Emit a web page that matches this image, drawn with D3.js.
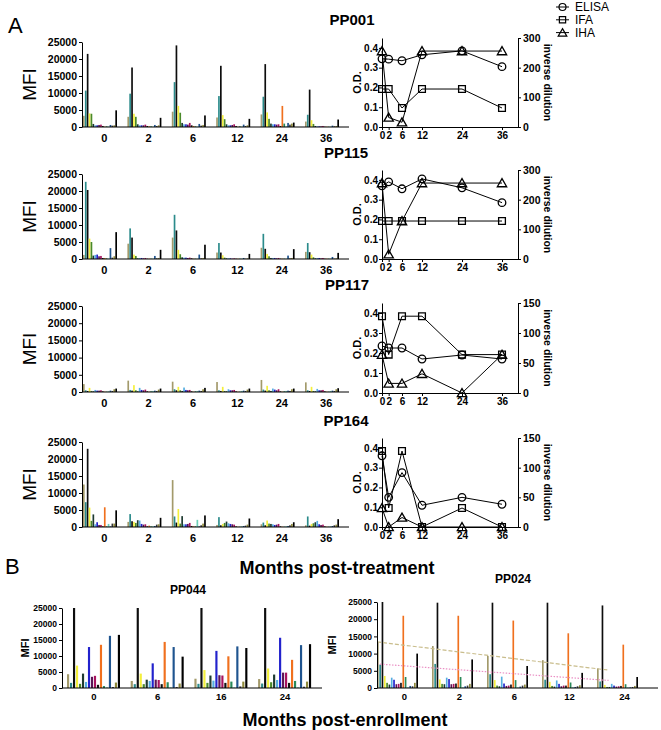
<!DOCTYPE html>
<html><head><meta charset="utf-8">
<script src="https://cdn.jsdelivr.net/npm/d3@7"></script>
<style>body{margin:0;background:#fff}svg{display:block}</style>
</head><body>
<svg id="c" width="661" height="730"></svg>
<script>
// ---------------- DATA ----------------
const antigenColors = ["#a39a6b","#2b8b8b","#0d0d0d","#f4f03c","#4a8a2a","#1e3a30","#55aee0","#2222cc","#5c1454","#a8125e","#111111","#f0701e","#2a8a5a","#6ccfb8","#1f548f","#3a3a3a","#8f8a3a","#000000"];
const monthsA = ["0","2","6","12","24","36"];
const mfiTicks = [0,5000,10000,15000,20000,25000];

const pp001MFI = [
 [3300,10700,21500,4000,3900,900,500,500,600,700,300,100,200,100,600,400,500,4900],
 [3000,9800,17500,3900,3000,800,500,500,500,700,300,200,200,100,600,300,500,2700],
 [4500,13200,24000,6200,4200,1200,800,800,700,1200,500,300,200,100,900,400,600,3400],
 [2800,9100,18000,3500,2300,800,500,500,600,800,300,100,200,100,700,300,500,2400],
 [3700,8900,18500,4300,2400,1000,800,800,700,800,300,6200,1000,200,1200,700,1000,1300],
 [1600,3600,11000,2000,900,300,200,200,200,300,100,100,100,100,400,200,300,2200]];
const pp115MFI = [
 [1200,22700,20300,6000,5000,1000,1200,1300,800,900,300,300,200,100,3200,400,800,7900],
 [4500,9000,6300,1300,900,200,300,300,200,300,100,100,100,100,900,200,300,2700],
 [6300,13000,8400,2700,1400,500,400,400,300,400,200,100,100,100,1300,200,300,4200],
 [1900,4700,1900,1100,400,200,200,200,100,200,100,100,100,100,300,100,200,1500],
 [3300,7400,3000,1500,800,300,300,300,200,300,100,100,100,100,1000,200,300,2900],
 [2100,4700,2000,1300,500,200,300,300,200,300,100,100,100,100,600,100,200,1800]];
const pp117MFI = [
 [2300,500,300,1200,300,200,600,400,400,500,200,100,100,200,400,300,800,1000],
 [3300,600,400,2000,500,200,1200,600,500,700,200,100,200,300,400,300,700,1000],
 [3000,800,500,1500,500,300,1300,600,500,600,200,100,200,300,400,300,800,1200],
 [2900,500,300,1500,300,200,800,500,500,600,200,100,100,300,400,300,700,1000],
 [3500,700,400,1800,500,300,1000,700,500,800,200,100,200,300,400,300,800,1000],
 [2800,500,300,1500,300,200,900,500,500,600,200,100,100,300,400,300,800,1100]];
const pp164MFI = [
 [12500,7300,23000,5700,1800,3700,800,1400,600,600,200,5800,200,900,200,1000,1000,4900],
 [1500,3800,1700,1500,1200,2000,1900,900,700,800,200,400,200,200,300,700,800,2700],
 [13800,3100,1300,5300,1000,3200,800,800,900,1200,300,200,200,2100,200,500,1000,3400],
 [600,2900,500,900,1200,1600,1100,900,800,700,200,100,100,200,300,400,700,2500],
 [800,1300,500,1900,1000,900,800,600,700,900,200,100,100,200,300,500,900,1400],
 [500,3100,400,900,1100,1400,1800,800,600,700,200,100,100,200,300,500,700,2300]];

const odMonths = [0,2,6,12,24,36];
const odTicks = [0,0.1,0.2,0.3,0.4];
const dilTicks300 = [0,100,200,300];
const dilTicks150 = [0,50,100,150];
const pp001ELISA = [0.345,0.343,0.335,0.365,0.385,0.305];
const pp001IFA = [128,128,64,128,128,64];
const pp001IHA = [256,32,16,256,256,256];
const pp115ELISA = [0.37,0.39,0.355,0.405,0.36,0.285];
const pp115IFA = [128,128,128,128,128,128];
const pp115IHA = [256,16,128,256,256,256];
const pp117ELISA = [0.235,0.225,0.225,0.17,0.19,0.17];
const pp117IFA = [128,64,128,128,64,64];
const pp117IHA = [64,16,16,32,0,64];
const pp164ELISA = [0.36,0.15,0.275,0.11,0.15,0.115];
const pp164IFA = [128,32,128,0,32,0];
const pp164IHA = [32,0,16,0,0,0];
const legendLabels = ["ELISA","IFA","IHA"];

const monthsB044 = ["0","6","16","24"];
const monthsB024 = ["0","2","6","12","24"];
const pp044MFI = [
 [4300,1600,25000,7000,1300,4500,1900,12800,3500,3800,1000,13500,600,200,16300,300,1700,16600],
 [2200,1200,25000,4500,1200,2600,2200,7700,2600,2500,1200,14400,1800,200,12800,300,1400,9800],
 [2900,1300,25000,5600,1600,3900,2300,11600,4000,3900,1600,9900,2000,200,13000,500,2000,12500],
 [2800,1400,25000,6100,1800,4200,2500,15700,4800,4800,1600,8800,2200,200,13400,400,2000,13700]];
const pp024MFI = [
 [13400,6800,25000,3500,1500,1000,3000,2400,1100,1200,1500,21000,3200,200,600,500,1500,10000],
 [12200,7000,24800,2500,1200,1100,3000,2600,1100,1200,1300,21000,3200,200,500,700,1200,8300],
 [9300,4000,24800,2300,700,500,3300,1300,600,700,1000,19600,2300,200,400,700,1000,6400],
 [8100,2400,24800,1800,600,400,2200,1200,500,700,700,15900,1600,200,300,500,800,4400],
 [5700,1900,24000,900,300,300,1200,700,400,500,600,12600,1100,200,200,300,600,3200]];
const pp024TrendTan = [13400,5200];
const pp024TrendPink = [7000,2200];

// ---------------- DRAW ----------------
const svg = d3.select("#c");
const FF = "'Liberation Sans', Arial, sans-serif";

function text(x,y,s,opt){
  const t = svg.append("text").attr("x",x).attr("y",y).text(s)
    .attr("font-family",FF).attr("font-size",opt.size||12)
    .attr("font-weight",opt.bold?"bold":"normal")
    .attr("text-anchor",opt.anchor||"middle").attr("fill","#000");
  if(opt.rot) t.attr("transform",`rotate(${opt.rot},${x},${y})`);
  if(opt.dy) t.attr("dy",opt.dy);
  return t;
}
function styleAxis(sel,size){
  sel.selectAll("text").attr("font-family",FF).attr("font-size",size).attr("font-weight","bold").attr("fill","#000");
  sel.selectAll("line,path").attr("stroke","#000").attr("stroke-width",1);
}

function drawBars(cfg){
  const n = cfg.groups.length;
  const x = d3.scaleBand().domain(cfg.groups).range([cfg.x0, cfg.x0+cfg.step*n]);
  const xi = d3.scaleBand().domain(d3.range(antigenColors.length)).range([cfg.barOff, cfg.barOff+cfg.barW]).paddingInner(cfg.pad);
  const y = d3.scaleLinear().domain([0,25000]).range([cfg.bottom,cfg.top]);
  const g = svg.append("g");
  cfg.groups.forEach((grp,gi)=>{
    g.append("g").attr("transform",`translate(${x(grp)},0)`)
     .selectAll("rect").data(cfg.data[gi]).join("rect")
     .attr("x",(d,i)=>xi(i)).attr("width",xi.bandwidth())
     .attr("y",d=>y(d)).attr("height",d=>cfg.bottom-y(d))
     .attr("fill",(d,i)=>antigenColors[i]);
  });
  if(cfg.trends){
    cfg.trends.forEach(tr=>{
      const xs=[x(cfg.groups[0])+cfg.barOff+xi(0), x(cfg.groups[n-1])+cfg.barOff+xi(5)];
      g.append("line").attr("x1",xs[0]).attr("x2",xs[1]).attr("y1",y(tr.v[0])).attr("y2",y(tr.v[1]))
       .attr("stroke",tr.c).attr("stroke-width",1.2).attr("stroke-dasharray",tr.dash);
    });
  }
  const ya = g.append("g").attr("transform",`translate(${cfg.x0},0)`)
    .call(d3.axisLeft(y).tickValues(mfiTicks).tickSize(3).tickSizeOuter(0).tickPadding(2).tickFormat(d3.format("d")));
  styleAxis(ya,cfg.yFont);
  const xa = g.append("g").attr("transform",`translate(0,${cfg.bottom})`)
    .call(d3.axisBottom(x).tickSize(0).tickPadding(cfg.xPad));
  xa.select(".domain").remove();
  styleAxis(xa,cfg.xFont);
  g.append("line").attr("x1",cfg.x0).attr("x2",cfg.xEnd).attr("y1",cfg.bottom).attr("y2",cfg.bottom)
   .attr("stroke","#000").attr("stroke-width",1);
}

const symTypes = [d3.symbolCircle, d3.symbolSquare, d3.symbolTriangle];
const symSizes = [45, 46, 38];
function drawOD(cfg){
  const x = d3.scaleLinear().domain([0,40.8]).range([382,518]);
  const yl = d3.scaleLinear().domain([0,0.45]).range([cfg.bottom,cfg.top]);
  const yr = d3.scaleLinear().domain([0,cfg.rmax]).range([cfg.bottom,cfg.top]);
  const g = svg.append("g");
  const la = g.append("g").attr("transform","translate(382,0)")
    .call(d3.axisLeft(yl).tickValues(odTicks).tickSize(3).tickSizeOuter(0).tickPadding(1).tickFormat(d3.format(".1f")));
  styleAxis(la,10);
  const ra = g.append("g").attr("transform","translate(518,0)")
    .call(d3.axisRight(yr).tickValues(cfg.rticks).tickSize(3).tickSizeOuter(0).tickPadding(2));
  styleAxis(ra,10.5);
  const xa = g.append("g").attr("transform",`translate(0,${cfg.bottom})`)
    .call(d3.axisBottom(x).tickValues(odMonths).tickSize(3).tickSizeOuter(0).tickPadding(2));
  styleAxis(xa,10);
  const series = [{v:cfg.elisa,y:yl},{v:cfg.ifa,y:yr},{v:cfg.iha,y:yr}];
  series.forEach((s,si)=>{
    g.append("path").datum(s.v).attr("fill","none").attr("stroke","#000").attr("stroke-width",1)
     .attr("d",d3.line().x((d,i)=>x(odMonths[i])).y(d=>s.y(d)));
  });
  series.forEach((s,si)=>{
    g.selectAll(null).data(s.v).join("path")
     .attr("transform",(d,i)=>`translate(${x(odMonths[i])},${s.y(d)+(si===2?1:0)})`)
     .attr("d",d3.symbol(symTypes[si],symSizes[si]))
     .attr("fill","none").attr("stroke","#000").attr("stroke-width",1.3);
  });
  const mid=(cfg.top+cfg.bottom)/2;
  text(361,mid,"O.D.",{size:11,bold:true,rot:-90});
  text(544,mid,"inverse dilution",{size:10.5,bold:true,rot:90});
}

// Panel A
const panelsA = [
 {name:"PP001",data:pp001MFI,e:pp001ELISA,f:pp001IFA,h:pp001IHA,top:42,bottom:127,ltop:38,lbottom:127,ty:25,tx:352,rmax:300,rt:dilTicks300},
 {name:"PP115",data:pp115MFI,e:pp115ELISA,f:pp115IFA,h:pp115IHA,top:174,bottom:259,ltop:170,lbottom:259,ty:158,tx:346,rmax:300,rt:dilTicks300},
 {name:"PP117",data:pp117MFI,e:pp117ELISA,f:pp117IFA,h:pp117IHA,top:306,bottom:392,ltop:303,lbottom:393,ty:290,tx:347,rmax:150,rt:dilTicks150},
 {name:"PP164",data:pp164MFI,e:pp164ELISA,f:pp164IFA,h:pp164IHA,top:442,bottom:527,ltop:438,lbottom:527,ty:426,tx:346,rmax:150,rt:dilTicks150}
];
panelsA.forEach(p=>{
  drawBars({groups:monthsA,data:p.data,x0:82,step:44.4,barOff:1,barW:34,pad:0.12,top:p.top,bottom:p.bottom,xEnd:349,yFont:10.5,xFont:11,xPad:7});
  drawOD({elisa:p.e,ifa:p.f,iha:p.h,top:p.ltop,bottom:p.lbottom,rmax:p.rmax,rticks:p.rt});
  text(p.tx,p.ty,p.name,{size:15,bold:true});
  text(36,(p.top+p.bottom)/2,"MFI",{size:19,rot:-90});
});

// legend
legendLabels.forEach((l,i)=>{
  const yy = 7 + i*12.8;
  svg.append("line").attr("x1",556).attr("x2",569).attr("y1",yy).attr("y2",yy).attr("stroke","#000");
  svg.append("path").attr("transform",`translate(562.5,${yy+(i===2?1:0)})`).attr("d",d3.symbol(symTypes[i],symSizes[i]*0.85))
    .attr("fill","none").attr("stroke","#000").attr("stroke-width",1.2);
  text(575,yy,l,{size:12,anchor:"start",dy:"0.35em"});
});

text(8,33,"A",{size:22,anchor:"start"});
text(337,574,"Months post-treatment",{size:18,bold:true});
text(5,574,"B",{size:22,anchor:"start"});
text(345,726,"Months post-enrollment",{size:18,bold:true});

// Panel B
drawBars({groups:monthsB044,data:pp044MFI,x0:62,step:63.7,barOff:5,barW:53,pad:0.28,top:608,bottom:688,xEnd:322,yFont:8.5,xFont:9.5,xPad:5});
text(188,594,"PP044",{size:12,bold:true});
text(29,648,"MFI",{size:11,bold:true,rot:-90});
drawBars({groups:monthsB024,data:pp024MFI,x0:377,step:55,barOff:0,barW:41,pad:0.28,top:602,bottom:688,xEnd:658,yFont:8.5,xFont:9.5,xPad:5,
  trends:[{v:pp024TrendTan,c:"#c9bd8c",dash:"4,2"},{v:pp024TrendPink,c:"#ea8fc4",dash:"1.5,1.5"}]});
text(513,583,"PP024",{size:12,bold:true});
text(336,645,"MFI",{size:11,bold:true,rot:-90});
</script>
</body></html>
